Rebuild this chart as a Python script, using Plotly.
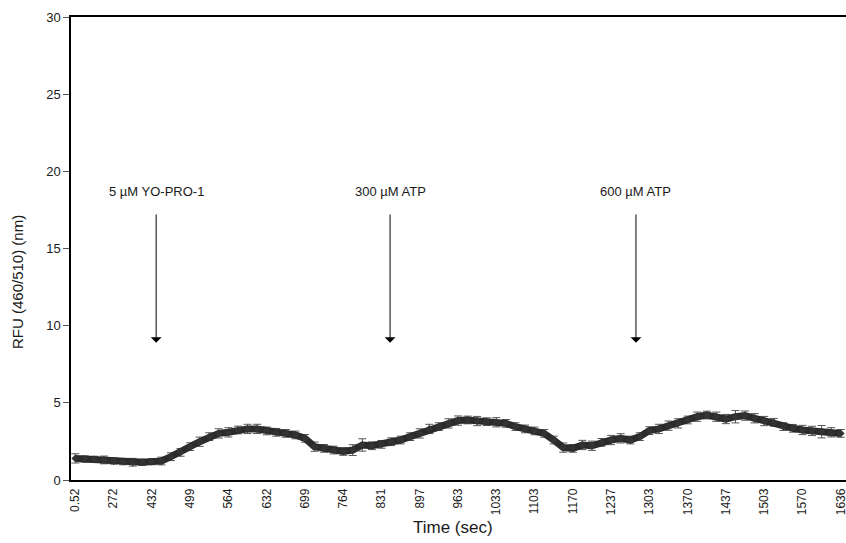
import plotly.graph_objects as go

# Tick labels (time, sec) shown on the category axis, one every 4 samples
time_labels = ["0.52", "272", "432", "499", "564", "632", "699", "764", "831", "897",
               "963", "1033", "1103", "1170", "1237", "1303", "1370", "1437", "1503",
               "1570", "1636"]
samples_per_label = 4

# RFU values read at each sample (quarter of a label interval)
rfu = [1.40, 1.36, 1.34, 1.30, 1.23, 1.19, 1.15, 1.15, 1.19, 1.23,
       1.51, 1.79, 2.16, 2.48, 2.81, 3.02, 3.09, 3.24, 3.31, 3.31,
       3.18, 3.09, 3.02, 2.92, 2.70, 2.16, 2.05, 1.94, 1.85, 1.94,
       2.27, 2.22, 2.31, 2.48, 2.59, 2.81, 3.02, 3.31, 3.46, 3.67,
       3.85, 3.89, 3.82, 3.78, 3.74, 3.67, 3.46, 3.31, 3.18, 3.02,
       2.59, 2.10, 2.05, 2.27, 2.22, 2.44, 2.59, 2.70, 2.59, 2.81,
       3.20, 3.31, 3.52, 3.67, 3.89, 4.10, 4.21, 4.10, 3.95, 4.10,
       4.17, 4.00, 3.82, 3.74, 3.46, 3.35, 3.24, 3.18, 3.13, 3.09,
       3.02]
rfu_err = [0.30, 0.20, 0.20, 0.25, 0.20, 0.20, 0.25, 0.20, 0.20, 0.25,
           0.25, 0.25, 0.25, 0.30, 0.25, 0.30, 0.30, 0.25, 0.30, 0.30,
           0.25, 0.25, 0.25, 0.25, 0.25, 0.30, 0.25, 0.25, 0.25, 0.35,
           0.40, 0.25, 0.25, 0.25, 0.25, 0.25, 0.30, 0.30, 0.25, 0.30,
           0.30, 0.25, 0.30, 0.25, 0.30, 0.25, 0.25, 0.25, 0.25, 0.25,
           0.25, 0.30, 0.25, 0.30, 0.30, 0.25, 0.30, 0.30, 0.25, 0.25,
           0.25, 0.30, 0.30, 0.30, 0.25, 0.30, 0.25, 0.30, 0.30, 0.40,
           0.30, 0.30, 0.30, 0.25, 0.25, 0.25, 0.30, 0.30, 0.40, 0.30,
           0.25]

# Addition events: (label, sample position)
event_labels = ["5 \u00b5M YO-PRO-1", "300 \u00b5M ATP", "600 \u00b5M ATP"]
event_pos = [8.45, 32.9, 58.6]
arrow_tip_value = 8.9
arrow_tail_value = 17.3
label_value = 18.7

samples = list(range(len(rfu)))
tick_positions = [i * samples_per_label for i in range(len(time_labels))]

FONT = "Liberation Sans, Arial, sans-serif"
TXT = "#1a1a1a"

fig = go.Figure()
fig.add_trace(go.Scatter(
    x=samples, y=rfu, mode="lines+markers",
    line=dict(color="#2b2b2b", width=7),
    marker=dict(symbol="diamond", size=6, color="#333333"),
    error_y=dict(type="data", array=rfu_err, color="#555555", thickness=1, width=4),
    showlegend=False,
))

for lab, pos in zip(event_labels, event_pos):
    fig.add_annotation(x=pos, y=arrow_tip_value, ax=pos, ay=arrow_tail_value,
                       xref="x", yref="y", axref="x", ayref="y",
                       showarrow=True, arrowhead=1, arrowsize=1.8, arrowwidth=1,
                       arrowcolor="#000000", text="")
    fig.add_annotation(x=pos, y=label_value, xref="x", yref="y", text=lab,
                       showarrow=False, font=dict(family=FONT, size=13, color=TXT))

# Axis titles placed as annotations
fig.add_annotation(x=0.5 - 6 / 775, y=-47 / 463, xref="paper", yref="paper",
                   text="Time (sec)", showarrow=False, xanchor="center", yanchor="middle",
                   font=dict(family=FONT, size=17, color=TXT))
fig.add_annotation(x=-53 / 775, y=(480 - 282) / 463, xref="paper", yref="paper",
                   text="RFU (460/510) (nm)", showarrow=False, textangle=-90,
                   xanchor="center", yanchor="middle",
                   font=dict(family=FONT, size=15, color=TXT))

fig.update_layout(
    width=846, height=543,
    margin=dict(l=71, r=0, t=17, b=63, autoexpand=False),
    paper_bgcolor="white", plot_bgcolor="white",
    font=dict(family=FONT, size=13, color=TXT),
)
fig.update_xaxes(
    range=[-0.45, samples[-1] + 0.55], automargin=False,
    tickmode="array", tickvals=tick_positions, ticktext=time_labels,
    tickangle=-90, ticks="", showgrid=False, zeroline=False,
    showline=True, linecolor="#000", linewidth=1.5, mirror=True,
    tickfont=dict(size=12), ticklabeloverflow="allow", ticklabelstandoff=2,
)
fig.update_yaxes(
    range=[0, 30], tickvals=[0, 5, 10, 15, 20, 25, 30], automargin=False,
    ticks="outside", ticklen=6, tickcolor="#555",
    showgrid=False, zeroline=False,
    showline=True, linecolor="#000", linewidth=1.5,
    tickfont=dict(size=13),
)

# Remove the default page margin so the 846x543 figure fills the window exactly
fig.write_html(
    "out.html",
    config={"displayModeBar": False},
    post_script="document.body.style.margin='0';document.body.style.overflow='hidden';",
)
